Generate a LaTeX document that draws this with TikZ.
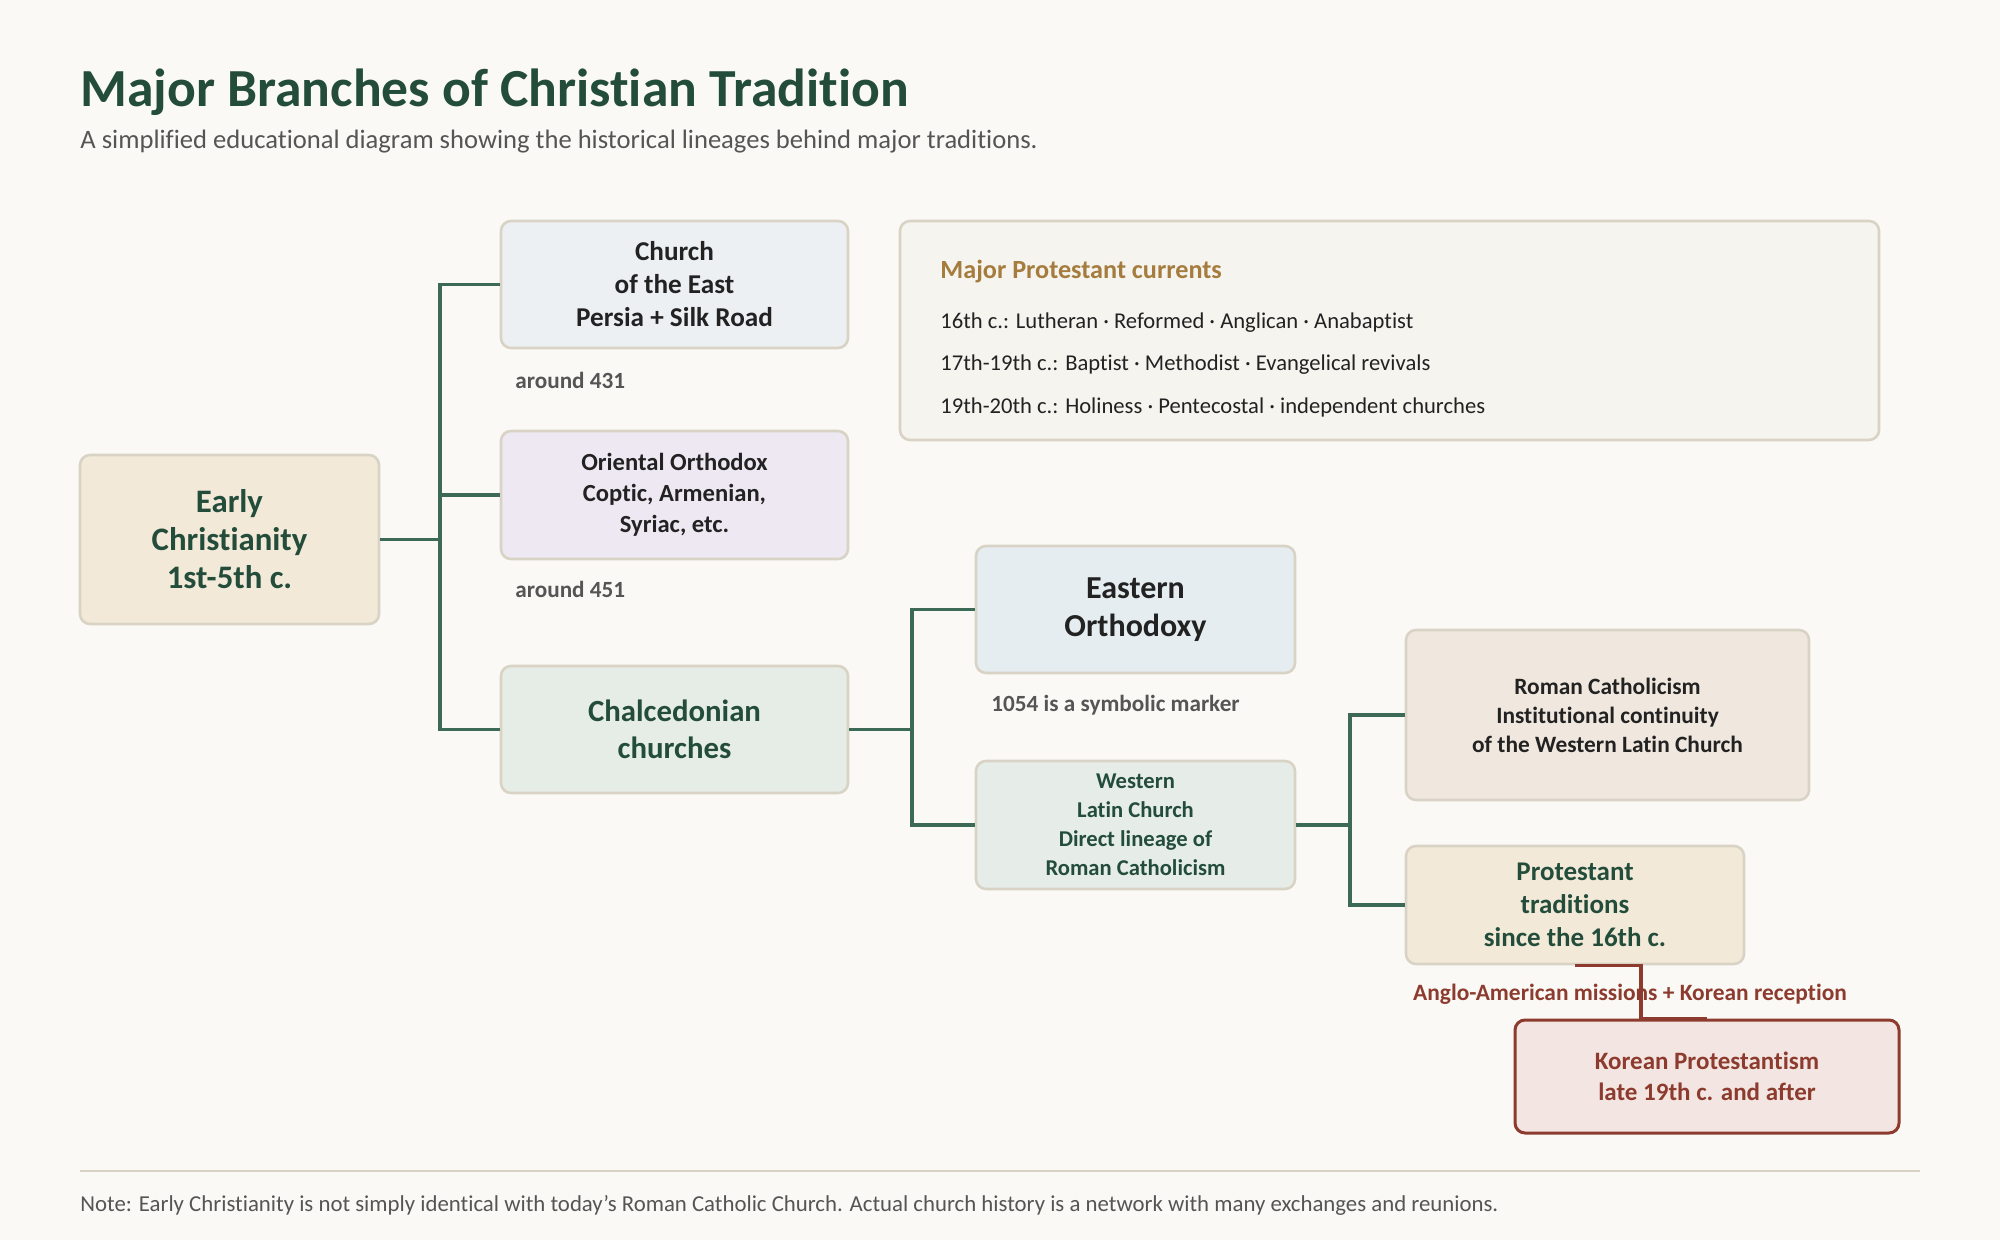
\documentclass[tikz,border=0pt]{standalone}
\usepackage{fontspec}
\setmainfont{Carlito}[Ligatures={NoCommon}]
\usetikzlibrary{calc}
\definecolor{bg}{HTML}{FAF9F5}
\definecolor{titlegreen}{HTML}{234D3A}
\definecolor{conncol}{HTML}{3D6A57}
\definecolor{boxline}{HTML}{D9D3C6}
\definecolor{fillearly}{HTML}{F2E9D9}
\definecolor{filleast}{HTML}{ECF0F2}
\definecolor{fillorient}{HTML}{EDE8F2}
\definecolor{fillchalc}{HTML}{E6EDE7}
\definecolor{filleorth}{HTML}{E5EDF0}
\definecolor{fillwest}{HTML}{E6EDE8}
\definecolor{fillroman}{HTML}{F0E8DF}
\definecolor{fillprot}{HTML}{F2E9D9}
\definecolor{fillkor}{HTML}{F3E5E1}
\definecolor{korline}{HTML}{8C3B2E}
\definecolor{fillcur}{HTML}{F5F4EF}
\definecolor{gold}{HTML}{A57C3E}
\definecolor{graylabel}{HTML}{555555}
\definecolor{darktext}{HTML}{222222}
\definecolor{subgray}{HTML}{555555}
\tikzset{
  box/.style={draw=boxline, line width=1.3pt, rounded corners=5pt, inner sep=0pt, align=center},
  conn/.style={draw=conncol, line width=1.7pt},
  korconn/.style={draw=korline, line width=1.7pt},
  smalllabel/.style={anchor=west, inner sep=0pt, text=graylabel, font=\fontsize{11.6}{13}\selectfont\bfseries},
  curline/.style={anchor=west, inner sep=0pt, text=darktext, font=\fontsize{11.3}{13}\selectfont},
}
\begin{document}
\begin{tikzpicture}[x=0.5pt,y=-0.5pt]
\useasboundingbox (0,0) rectangle (2000,1240);
\fill[bg] (0,0) rectangle (2000,1240);

% title
\node[anchor=base west, inner sep=0pt, text=titlegreen, font=\fontsize{26.8}{30}\selectfont\bfseries] (title) at (80,107) {Major Branches of Christian Tradition};
\node[anchor=base west, inner sep=0pt, text=subgray, font=\fontsize{13.3}{15}\selectfont] (subtitle) at (80,149) {A simplified educational diagram showing the historical lineages behind major traditions.};

% boxes
\node[box, fill=fillearly, minimum width=149.5pt, minimum height=84.5pt, text=titlegreen, font=\fontsize{16.4}{19}\selectfont\bfseries] (early) at (229.5,539.5) {Early\\Christianity\\1st-5th c.};
\node[box, fill=filleast, minimum width=173.5pt, minimum height=63.5pt, text=darktext, font=\fontsize{13.6}{16.5}\selectfont\bfseries] (east) at (674.5,284.5) {Church\\of the East\\Persia + Silk Road};
\node[box, fill=fillorient, minimum width=173.5pt, minimum height=64pt, text=darktext, font=\fontsize{12.3}{15.5}\selectfont\bfseries] (orient) at (674.5,495) {Oriental Orthodox\\Coptic, Armenian,\\Syriac, etc.};
\node[box, fill=fillchalc, minimum width=173.5pt, minimum height=63.5pt, text=titlegreen, font=\fontsize{15.4}{18.5}\selectfont\bfseries] (chalc) at (674.5,729.5) {Chalcedonian\\churches};
\node[box, fill=filleorth, minimum width=159.5pt, minimum height=63.5pt, text=darktext, font=\fontsize{16}{19}\selectfont\bfseries] (eorth) at (1135.5,609.5) {Eastern\\Orthodoxy};
\node[box, fill=fillwest, minimum width=159.5pt, minimum height=64pt, text=titlegreen, font=\fontsize{11.3}{14.5}\selectfont\bfseries] (west) at (1135.5,825) {Western\\Latin Church\\Direct lineage of\\Roman Catholicism};
\node[box, fill=fillroman, minimum width=201.5pt, minimum height=85pt, text=darktext, font=\fontsize{11.7}{14.5}\selectfont\bfseries] (roman) at (1607.5,715) {Roman Catholicism\\Institutional continuity\\of the Western Latin Church};
\node[box, fill=fillprot, minimum width=169pt, minimum height=59pt, text=titlegreen, font=\fontsize{13.5}{16.5}\selectfont\bfseries] (prot) at (1575,905) {Protestant\\traditions\\since the 16th c.};
\node[box, draw=korline, line width=1.5pt, fill=fillkor, minimum width=192pt, minimum height=56.5pt, text=korline, font=\fontsize{12.5}{15.5}\selectfont\bfseries] (kor) at (1707,1076.5) {Korean Protestantism\\late 19th c. and after};

% Protestant currents panel
\node[box, fill=fillcur, minimum width=489.5pt, minimum height=109.5pt] (cur) at (1389.5,330.5) {};
\node[anchor=west, inner sep=0pt, text=gold, font=\fontsize{13.1}{15}\selectfont\bfseries] (curtitle) at (940,272) {Major Protestant currents};
\node[curline] (cur1) at (940,323) {16th c.: Lutheran · Reformed · Anglican · Anabaptist};
\node[curline] (cur2) at (940,365) {17th-19th c.: Baptist · Methodist · Evangelical revivals};
\node[curline] (cur3) at (940,407) {19th-20th c.: Holiness · Pentecostal · independent churches};

% small labels
\node[smalllabel] (l431) at (515,380) {around 431};
\node[smalllabel] (l451) at (515,589) {around 451};
\node[smalllabel] (l1054) at (991,705) {1054 is a symbolic marker};
\node[inner sep=0pt, text=korline, font=\fontsize{11.7}{13}\selectfont\bfseries] (langlo) at (1630,994) {Anglo-American missions + Korean reception};

% connectors
\coordinate (b1) at (440,539.5);
\coordinate (b2) at (912,729.5);
\coordinate (b3) at (1350,825);
\draw[conn] (early.east) -- (b1);
\draw[conn] (east.west) -- (b1 |- east.west) -- (b1 |- chalc.west) -- (chalc.west);
\draw[conn] (orient.west) -- (b1 |- orient.west);
\draw[conn] (chalc.east) -- (b2);
\draw[conn] (eorth.west) -- (b2 |- eorth.west) -- (b2 |- west.west) -- (west.west);
\draw[conn] (west.east) -- (b3);
\draw[conn] (roman.west) -- (b3 |- roman.west) -- (b3 |- prot.west) -- (prot.west);
\coordinate (km) at ($(prot.south)!0.5!(kor.north)$);
\draw[korconn] (prot.south) -- (km |- prot.south) -- (km |- kor.north) -- (kor.north);

% footer
\draw[boxline, line width=1pt] (80,1171) coordinate (fl) -- (1920,1171) coordinate (fr);
\node[anchor=west, inner sep=0pt, text=subgray, font=\fontsize{11.4}{13}\selectfont] (note) at (80,1205) {Note: Early Christianity is not simply identical with today{\char"27}s Roman Catholic Church. Actual church history is a network with many exchanges and reunions.};
\end{tikzpicture}
\end{document}
